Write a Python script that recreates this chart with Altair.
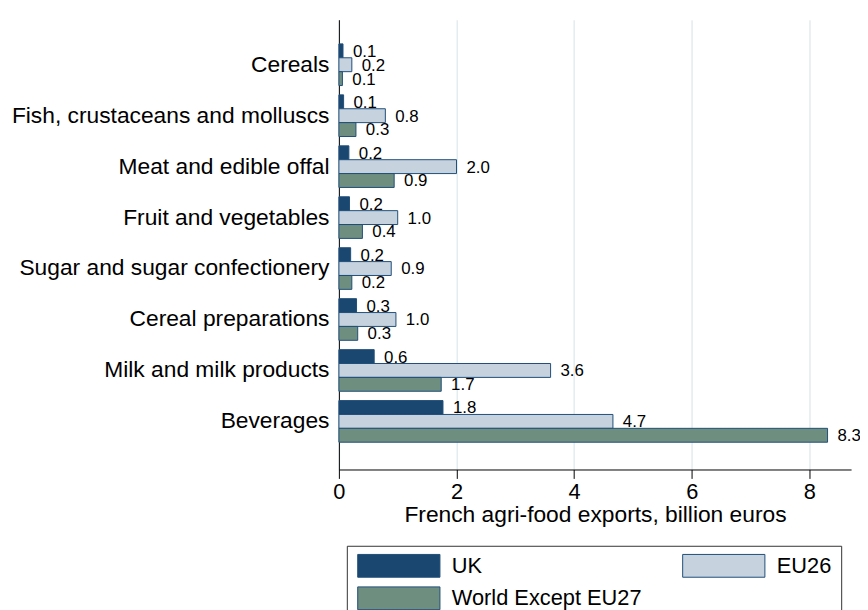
import altair as alt
import pandas as pd

categories = [
    "Cereals",
    "Fish, crustaceans and molluscs",
    "Meat and edible offal\u00a0",
    "Fruit and vegetables",
    "Sugar and sugar confectionery\u00a0",
    "Cereal preparations",
    "Milk and milk products",
    "Beverages\u00a0",
]
series = ["UK", "EU26", "World Except EU27"]
uk = [0.07, 0.08, 0.17, 0.18, 0.20, 0.30, 0.60, 1.77]
eu26 = [0.22, 0.79, 2.00, 1.00, 0.89, 0.97, 3.60, 4.66]
world = [0.06, 0.29, 0.94, 0.40, 0.22, 0.32, 1.74, 8.31]
colors = ["#1a476f", "#c6d3df", "#6e8e80"]
x_ticks = [0, 2, 4, 6, 8]

rows = []
for s, vals in zip(series, [uk, eu26, world]):
    for c, v in zip(categories, vals):
        rows.append({"category": c, "series": s, "value": v})
df = pd.DataFrame(rows)

FONT = "Liberation Sans"

base = alt.Chart(df).encode(
    y=alt.Y(
        "category:N",
        sort=categories,
        scale=alt.Scale(paddingInner=0.183, paddingOuter=0.505, align=0.47),
        axis=alt.Axis(
            title=None, ticks=False, labelPadding=10, labelFontSize=23,
            labelColor="black", labelLimit=400, domainColor="black",
            domainWidth=1, grid=False, labelFont=FONT,
        ),
    ),
    yOffset=alt.YOffset("series:N", sort=series,
                        scale=alt.Scale(paddingInner=0, paddingOuter=0)),
)

bars = base.mark_bar(stroke="#1f4e79", strokeWidth=1).encode(
    x=alt.X(
        "value:Q",
        scale=alt.Scale(domain=[0, 8.71], nice=False, zero=True),
        axis=alt.Axis(
            values=x_ticks, format="d", labelFlush=False,
            title="French agri-food exports, billion euros",
            tickSize=9, tickColor="black", domainColor="black", domainWidth=1,
            labelFontSize=22, labelPadding=3, labelColor="black", labelFont=FONT,
            titleFontSize=23, titleFontWeight="normal", titlePadding=2,
            titleColor="black", titleFont=FONT,
            grid=True, gridColor="#e3ecef", gridWidth=1.5,
        ),
    ),
    color=alt.Color(
        "series:N",
        sort=series,
        scale=alt.Scale(domain=series, range=colors),
        legend=alt.Legend(
            title=None, orient="none", legendX=8, legendY=531, columns=2,
            direction="horizontal", columnPadding=39, rowPadding=5,
            symbolType="M-1.8,-2.3H14.8V2.3H-1.8Z", symbolSize=100,
            symbolStrokeColor="#1f4e79", symbolStrokeWidth=1, symbolOpacity=1,
            labelOffset=75, labelFontSize=22, labelFont=FONT, labelColor="black",
            labelLimit=400, strokeColor="#333333", padding=9,
        ),
    ),
)

labels = base.mark_text(
    align="left", baseline="middle", dx=10, dy=1, fontSize=17,
    color="black", font=FONT,
).encode(
    x="value:Q",
    text=alt.Text("value:Q", format=".1f"),
)

chart = (
    alt.layer(bars, labels)
    .properties(
        width=517, height=454,
        autosize=alt.AutoSizeParams(type="none"),
        padding={"left": 334, "top": 9, "right": 9, "bottom": 139},
    )
    .configure_view(strokeWidth=0)
)

chart.save("out.html", embed_options={"renderer": "svg", "actions": False})
